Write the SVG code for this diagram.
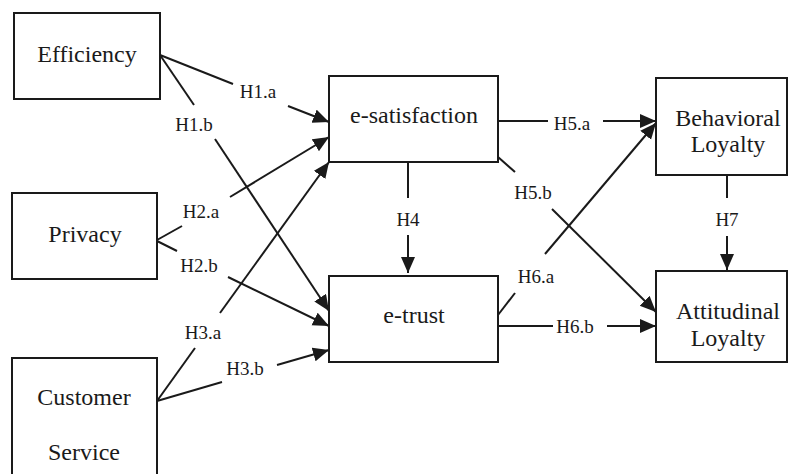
<svg xmlns="http://www.w3.org/2000/svg" width="790" height="474" viewBox="0 0 790 474">
<style>
.box{fill:#ffffff;stroke:#1a1a1a;stroke-width:2}
.nt{font-family:"Liberation Serif","Times New Roman",serif;font-size:24px;fill:#1a1a1a;text-anchor:middle}
.lb{font-family:"Liberation Serif","Times New Roman",serif;font-size:19px;fill:#1a1a1a;text-anchor:middle}
.ln{stroke:#1a1a1a;stroke-width:2;fill:none}
.ar{stroke:#1a1a1a;stroke-width:2;fill:none;marker-end:url(#ah)}
</style>
<defs>
<marker id="ah" markerUnits="userSpaceOnUse" markerWidth="18" markerHeight="16" refX="16" refY="7" orient="auto">
<path d="M0,0 L16,7 L0,14 z" fill="#1a1a1a"/>
</marker>
</defs>
<rect width="790" height="474" fill="#ffffff"/>
<g id="connectors">
<g id="c-h1a"><line class="ln" x1="160" y1="55" x2="233" y2="84"/><line class="ar" x1="288" y1="106" x2="329" y2="122"/><text class="lb" x="258" y="98">H1.a</text></g>
<g id="c-h1b"><line class="ln" x1="160" y1="55" x2="194" y2="105"/><line class="ar" x1="215" y1="139" x2="329" y2="311"/><text class="lb" x="194" y="131">H1.b</text></g>
<g id="c-h2a"><line class="ln" x1="157" y1="240" x2="182" y2="226"/><line class="ar" x1="230" y1="197" x2="329" y2="137"/><text class="lb" x="201" y="218">H2.a</text></g>
<g id="c-h2b"><line class="ln" x1="157" y1="241" x2="177" y2="251"/><line class="ar" x1="228" y1="277" x2="329" y2="326"/><text class="lb" x="199" y="272">H2.b</text></g>
<g id="c-h3a"><line class="ln" x1="157" y1="401" x2="195" y2="348"/><line class="ar" x1="220" y1="313" x2="329" y2="162"/><text class="lb" x="203" y="339">H3.a</text></g>
<g id="c-h3b"><line class="ln" x1="157" y1="401" x2="222" y2="382"/><line class="ar" x1="277" y1="365" x2="329" y2="350"/><text class="lb" x="245" y="375">H3.b</text></g>
<g id="c-h4"><line class="ln" x1="408" y1="162" x2="408" y2="198"/><line class="ar" x1="408" y1="235" x2="408" y2="273"/><text class="lb" x="408" y="226">H4</text></g>
<g id="c-h5a"><line class="ln" x1="498" y1="121" x2="548" y2="121"/><line class="ar" x1="603" y1="121" x2="656" y2="121"/><text class="lb" x="572" y="130">H5.a</text></g>
<g id="c-h5b"><line class="ln" x1="498" y1="157" x2="515" y2="172"/><line class="ar" x1="552" y1="209" x2="656" y2="312"/><text class="lb" x="533" y="199">H5.b</text></g>
<g id="c-h6a"><line class="ln" x1="498" y1="315" x2="515" y2="293"/><line class="ar" x1="545" y1="254" x2="656" y2="123"/><text class="lb" x="536" y="283">H6.a</text></g>
<g id="c-h6b"><line class="ln" x1="498" y1="326" x2="553" y2="326"/><line class="ar" x1="607" y1="326" x2="656" y2="326"/><text class="lb" x="575" y="333">H6.b</text></g>
<g id="c-h7"><line class="ln" x1="727" y1="175" x2="727" y2="198"/><line class="ar" x1="727" y1="236" x2="727" y2="270"/><text class="lb" x="727" y="226">H7</text></g>
</g>
<g id="efficiency"><rect class="box" x="14" y="13" width="146" height="86"/><text class="nt" x="87" y="62">Efficiency</text></g>
<g id="privacy"><rect class="box" x="12" y="193" width="145" height="86"/><text class="nt" x="85" y="242">Privacy</text></g>
<g id="customer-service"><rect class="box" x="12" y="358" width="145" height="130"/><text class="nt" x="84" y="405">Customer</text><text class="nt" x="84" y="460">Service</text></g>
<g id="e-satisfaction"><rect class="box" x="329" y="76" width="169" height="86"/><text class="nt" x="414" y="123">e-satisfaction</text></g>
<g id="e-trust"><rect class="box" x="329" y="276" width="169" height="86"/><text class="nt" x="414" y="323">e-trust</text></g>
<g id="behavioral-loyalty"><rect class="box" x="656" y="78" width="131" height="97"/><text class="nt" x="728" y="126">Behavioral</text><text class="nt" x="728" y="152">Loyalty</text></g>
<g id="attitudinal-loyalty"><rect class="box" x="656" y="271" width="131" height="91"/><text class="nt" x="728" y="319">Attitudinal</text><text class="nt" x="728" y="346">Loyalty</text></g>
</svg>
